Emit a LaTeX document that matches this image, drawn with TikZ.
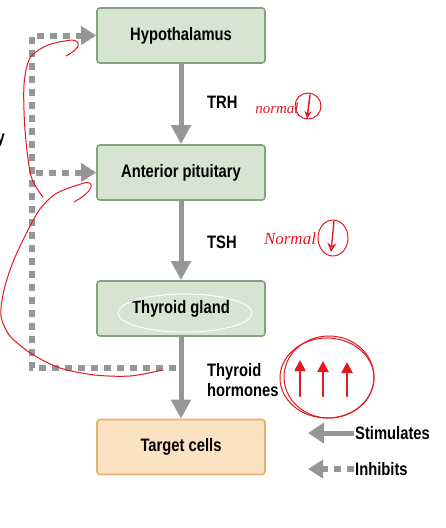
\documentclass[tikz,border=0pt]{standalone}
\usepackage{fontspec}
\setmainfont{Liberation Sans}[FakeStretch=0.82]
\newfontfamily\handfont{Liberation Serif}
\definecolor{boxfill}{RGB}{214,228,210}
\definecolor{boxgreen}{RGB}{132,164,126}
\definecolor{cellfill}{RGB}{250,226,194}
\definecolor{cellorange}{RGB}{226,178,108}
\definecolor{arrowgray}{RGB}{150,150,150}
\definecolor{penred}{RGB}{228,24,32}
\usetikzlibrary{arrows.meta,calc}
\tikzset{
  organ/.style={draw=boxgreen, fill=boxfill, line width=1.6pt, rounded corners=3pt, minimum width=168pt, minimum height=55pt, font=\fontsize{18}{20}\selectfont\bfseries},
  cellbox/.style={organ, draw=cellorange, fill=cellfill},
  lbl/.style={font=\fontsize{18}{20}\selectfont\bfseries, align=left, inner sep=1pt},
  stimarrow/.style={draw=arrowgray, line width=5pt, -{Triangle[width=19pt,length=19pt]}},
  inhibarrow/.style={draw=arrowgray, line width=6pt, dash pattern=on 7pt off 6pt, -{Triangle[width=18pt,length=15pt]}},
  redpen/.style={draw=penred, line width=1pt, line cap=round, line join=round},
  handnote/.style={text=penred, inner sep=0pt, font=\handfont\itshape\fontsize{15}{16}\selectfont},
}

\begin{document}
\begin{tikzpicture}[x=1pt, y=-1pt]
  \useasboundingbox (0,0) rectangle (445,528);
  \clip (0,0) rectangle (445,528);
  % Glands and target
  \node[organ] (hypo) at (181,35.5) {Hypothalamus};
  \node[organ] (pit) at (181,172.5) {Anterior pituitary};
  \node[organ] (thyr) at (181,308.5) {Thyroid gland};
  \node[cellbox] (cells) at (181,447) {Target cells};
  % Hormone arrows
  \draw[stimarrow] (hypo.south) -- (pit.north);
  \draw[stimarrow] (pit.south) -- (thyr.north);
  \draw[stimarrow] (thyr.south) -- (cells.north);
  \node[lbl, anchor=west] (trh) at (206,102) {TRH};
  \node[lbl, anchor=west] (tsh) at (206,242) {TSH};
  \node[lbl, anchor=west] (hormones) at (206,380) {Thyroid\\hormones};
  \node[lbl, anchor=base east, inner sep=0pt] (cut) at (5,143) {y};
  % Negative feedback
  \coordinate (fb) at (176,368);
  \coordinate (lane) at (32,0);
  \draw[inhibarrow] (fb) -- (fb -| lane) |- (hypo.west);
  \draw[inhibarrow] ($(pit.west -| lane)+(4,0)$) -- (pit.west);
  % Legend
  \node[lbl, anchor=west] (stim) at (354,433) {Stimulates};
  \node[lbl, anchor=west] (inhib) at (354,469) {Inhibits};
  \coordinate (stimtip) at (308,433);
  \coordinate (inhibtip) at (308,469);
  \draw[stimarrow, -{Triangle[width=20pt,length=16pt]}] (stim.west) -- (stimtip);
  \draw[inhibarrow] (inhib.west) -- (inhibtip);
  % Pen marks
  \draw[white, line width=1pt] (185,313) ellipse[x radius=67pt, y radius=19pt];
  \node[handnote] (norm1) at (277,108) {normal};
  \draw[redpen] (308,106) circle[radius=13pt];
  \draw[redpen, line width=1.5pt, -{Stealth[length=8pt,width=7pt]}] (310,95) -- (307,119);
  \node[handnote, font=\handfont\itshape\fontsize{17}{18}\selectfont] (norm2) at (290,239) {Normal};
  \draw[redpen] (333,238) ellipse[x radius=15pt, y radius=18pt];
  \draw[redpen, line width=1.3pt, -{Stealth[length=9pt,width=9pt,open]}] (334,221) -- (331,252);
  \draw[redpen] (327,378) ellipse[x radius=47pt, y radius=40pt];
  \draw[redpen] (329,377) ellipse[x radius=45pt, y radius=41pt];
  \foreach \ax/\ay in {300/360, 323/361, 347/362}
    \draw[redpen, line width=2.5pt, -{Triangle[width=11pt,length=11pt]}] (\ax,396) -- (\ax,\ay);
  \draw[redpen] plot[smooth] coordinates {(43,197) (31,176) (25,130) (24,85) (30,58) (48,45) (71,40)}
    .. controls (81,40) and (82,48) .. (66,56);
  \draw[redpen] plot[smooth] coordinates {(163,370) (130,376) (95,375) (60,368) (32,354) (10,336) (1,316) (4,290) (13,262) (26,234) (40,209) (57,193) (84,183)}
    .. controls (94,180) and (96,190) .. (74,202);
\end{tikzpicture}
\end{document}
